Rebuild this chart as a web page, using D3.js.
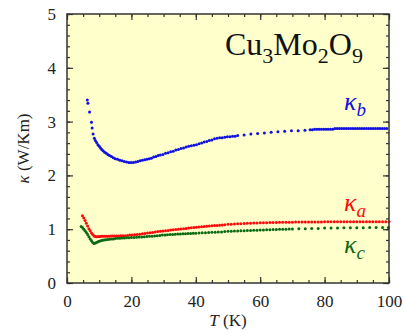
<!DOCTYPE html>
<html>
<head>
<meta charset="utf-8">
<script src="https://cdn.jsdelivr.net/npm/d3@7"></script>
<style>
  body { margin: 0; background: #fff; }
  svg, svg text { font-family: "Liberation Serif", "Times New Roman", serif; }
</style>
</head>
<body>
<div id="chart"></div>
<script>
var W = 404, H = 331;
var margin = {top: 14, right: 15, bottom: 48, left: 67};
var w = W - margin.left - margin.right, h = H - margin.top - margin.bottom;
var serif = '"Liberation Serif", "Times New Roman", serif';

var xTicks = [0, 20, 40, 60, 80, 100];
var yTicks = [0, 1, 2, 3, 4, 5];

// kappa_b (blue)
var kbT = [6.3, 6.5, 7.0, 7.6, 7.8, 8.1, 8.5, 8.8, 9.2, 9.6, 10.0, 10.4, 10.8, 11.2, 11.7, 12.2, 12.7, 13.2, 13.8, 14.4,
  15.0, 15.7, 16.4, 17.1, 17.8, 18.5, 19.2, 19.9, 20.6, 21.3, 22.0, 22.7, 23.4, 24.1, 24.8, 25.5, 26.2, 26.9, 27.6, 28.3,
  29.0, 29.8, 30.6, 31.4, 32.2, 33.0, 33.8, 34.6, 35.4, 36.2, 37.0, 37.8, 38.6, 39.4, 40.2, 41.0, 41.8, 42.6, 43.4, 44.2,
  45.0, 45.8, 46.6, 47.4, 48.2, 49.0, 49.8, 50.6, 51.4, 52.2, 53.0, 55.0, 57.1, 59.2, 61.3, 63.4, 65.5, 67.6, 69.7, 71.8,
  73.9, 75.5, 76.2, 76.9, 77.6, 78.3, 79.0, 79.7, 80.4, 81.1, 81.8, 82.5, 83.2, 83.9, 84.6, 85.3, 86.0, 86.7, 87.4, 88.1,
  88.8, 89.5, 90.2, 90.9, 91.6, 92.3, 93.0, 93.7, 94.4, 95.1, 95.8, 96.5, 97.2, 97.9, 98.6, 99.3];
var kbK = [3.40, 3.34, 3.18, 2.99, 2.88, 2.77, 2.69, 2.65, 2.61, 2.57, 2.54, 2.51, 2.48, 2.46, 2.43, 2.41, 2.39, 2.37, 2.35, 2.33,
  2.31, 2.30, 2.28, 2.27, 2.26, 2.25, 2.24, 2.24, 2.24, 2.25, 2.26, 2.27, 2.28, 2.29, 2.30, 2.31, 2.32, 2.34, 2.35, 2.37,
  2.38, 2.39, 2.41, 2.42, 2.44, 2.45, 2.47, 2.48, 2.50, 2.51, 2.53, 2.54, 2.55, 2.56, 2.57, 2.59, 2.60, 2.62, 2.63, 2.65,
  2.66, 2.68, 2.69, 2.70, 2.70, 2.71, 2.72, 2.72, 2.73, 2.73, 2.74, 2.75, 2.77, 2.78, 2.79, 2.80, 2.81, 2.82, 2.83, 2.83,
  2.84, 2.85, 2.85, 2.86, 2.86, 2.86, 2.86, 2.86, 2.86, 2.86, 2.86, 2.86, 2.87, 2.87, 2.87, 2.87, 2.87, 2.87, 2.87, 2.87,
  2.87, 2.87, 2.87, 2.87, 2.87, 2.87, 2.87, 2.87, 2.87, 2.87, 2.87, 2.87, 2.87, 2.87, 2.87, 2.87];

// kappa_a (red)
var kaT = [4.8, 5.2, 5.6, 6.0, 6.4, 6.8, 7.2, 7.6, 8.0, 8.4, 8.8, 9.2, 9.7, 10.2, 10.7, 11.2, 11.8, 12.4, 13.0, 13.6,
  14.2, 14.8, 15.4, 16.0, 16.7, 17.4, 18.1, 18.8, 19.5, 20.2, 21.0, 21.8, 22.6, 23.4, 24.2, 25.0, 25.8, 26.6, 27.4, 28.2,
  29.0, 29.8, 30.6, 31.4, 32.2, 33.0, 33.8, 34.6, 35.4, 36.2, 37.0, 37.8, 38.6, 39.4, 40.2, 41.0, 41.8, 42.6, 43.4, 44.2,
  45.0, 45.8, 46.6, 47.4, 48.2, 49.0, 50, 51, 52, 53, 54, 55, 56, 57, 58, 59, 60, 61, 62, 63,
  64, 65, 66, 67, 68, 69, 70, 71, 72, 73, 74, 75, 76, 77, 78, 79, 80, 81, 82, 83,
  84, 85, 86, 87, 88, 89, 90, 91, 92, 93, 94, 95, 96, 97, 98, 99, 100];
var kaK = [1.25, 1.21, 1.16, 1.11, 1.06, 1.01, 0.97, 0.93, 0.90, 0.875, 0.865, 0.86, 0.865, 0.865, 0.87, 0.87, 0.87, 0.87, 0.87, 0.875,
  0.875, 0.875, 0.875, 0.875, 0.88, 0.88, 0.88, 0.885, 0.89, 0.89, 0.895, 0.90, 0.905, 0.915, 0.92, 0.93, 0.935, 0.94, 0.95, 0.955,
  0.96, 0.965, 0.97, 0.975, 0.985, 0.99, 0.995, 1.00, 1.005, 1.01, 1.015, 1.02, 1.025, 1.03, 1.035, 1.04, 1.045, 1.05, 1.055, 1.06,
  1.065, 1.07, 1.07, 1.075, 1.08, 1.085, 1.09, 1.09, 1.095, 1.10, 1.10, 1.105, 1.11, 1.11, 1.115, 1.115, 1.12, 1.12, 1.12, 1.125,
  1.125, 1.125, 1.13, 1.13, 1.13, 1.13, 1.13, 1.135, 1.135, 1.135, 1.135, 1.135, 1.135, 1.135, 1.135, 1.135, 1.14, 1.14, 1.14, 1.14,
  1.14, 1.14, 1.14, 1.14, 1.14, 1.14, 1.14, 1.14, 1.14, 1.14, 1.14, 1.14, 1.14, 1.14, 1.14, 1.14, 1.14];

// kappa_c (green)
var kcT = [4.4, 4.8, 5.2, 5.6, 6.0, 6.4, 6.8, 7.2, 7.6, 8.0, 8.4, 8.8, 9.2, 9.6, 10.0, 10.5, 11.0, 11.5, 12.0, 12.6,
  13.2, 13.8, 14.4, 15.0, 15.7, 16.4, 17.1, 17.8, 18.5, 19.2, 20.0, 20.8, 21.6, 22.4, 23.2, 24.0, 24.8, 25.6, 26.4, 27.2,
  28.0, 28.8, 29.6, 30.4, 31.2, 32.0, 32.8, 33.6, 34.4, 35.2, 36.0, 36.8, 37.6, 38.4, 39.2, 40, 41, 42, 43, 44,
  45, 46, 47, 48, 49, 50, 51, 52, 53, 54, 55, 56, 57, 58, 59, 60, 61, 62, 63, 64,
  65, 66, 67, 68, 69, 70, 72, 74, 76, 78, 80, 82, 84, 86, 88, 90, 92, 94, 96, 98, 99.8];
var kcK = [1.05, 1.03, 1.00, 0.97, 0.94, 0.90, 0.86, 0.82, 0.785, 0.755, 0.735, 0.745, 0.755, 0.765, 0.775, 0.785, 0.795, 0.80, 0.805, 0.81,
  0.815, 0.82, 0.82, 0.825, 0.83, 0.83, 0.835, 0.835, 0.84, 0.84, 0.845, 0.845, 0.85, 0.855, 0.855, 0.86, 0.865, 0.87, 0.87, 0.875,
  0.88, 0.885, 0.89, 0.89, 0.895, 0.90, 0.90, 0.905, 0.91, 0.91, 0.915, 0.915, 0.92, 0.92, 0.925, 0.925, 0.93, 0.935, 0.935, 0.94,
  0.945, 0.945, 0.95, 0.95, 0.955, 0.96, 0.96, 0.965, 0.965, 0.97, 0.97, 0.975, 0.975, 0.98, 0.98, 0.985, 0.985, 0.99, 0.99, 0.995,
  0.995, 1.00, 1.00, 1.00, 1.005, 1.005, 1.01, 1.01, 1.015, 1.015, 1.02, 1.02, 1.02, 1.025, 1.025, 1.025, 1.025, 1.03, 1.03, 1.03, 1.03];

var series = [
  {T: kbT, K: kbK, color: '#1010e0'},
  {T: kaT, K: kaK, color: '#ff0a0a'},
  {T: kcT, K: kcK, color: '#0b6a12'}
];

var x = d3.scaleLinear().domain([0, 100]).range([0, w]);
var y = d3.scaleLinear().domain([0, 5]).range([h, 0]);

var svg = d3.select('#chart').append('svg')
  .attr('width', W)
  .attr('height', H)
  .style('font-family', serif)
  .append('g')
  .attr('transform', 'translate(' + margin.left + ',' + margin.top + ')');

svg.append('rect')
  .attr('width', w).attr('height', h)
  .attr('fill', '#ffffcc');

var xMinor = d3.range(0, 101, 5), yMinor = d3.range(0, 5.01, 0.2);
var fmt = d3.format('d');

function styleAxis(g) {
  g.attr('font-family', null);
  g.select('.domain').remove();
  g.selectAll('.tick line').attr('stroke', '#333').attr('stroke-width', 1.2);
}

// minor ticks on all sides
svg.append('g').attr('transform', 'translate(0,' + h + ')')
  .call(d3.axisBottom(x).tickValues(xMinor).tickSize(-3).tickFormat('')).call(styleAxis);
svg.append('g')
  .call(d3.axisTop(x).tickValues(xMinor).tickSize(-3).tickFormat('')).call(styleAxis);
svg.append('g')
  .call(d3.axisLeft(y).tickValues(yMinor).tickSize(-3).tickFormat('')).call(styleAxis);
svg.append('g').attr('transform', 'translate(' + w + ',0)')
  .call(d3.axisRight(y).tickValues(yMinor).tickSize(-3).tickFormat('')).call(styleAxis);

// major ticks
var xAx = svg.append('g').attr('transform', 'translate(0,' + h + ')')
  .call(d3.axisBottom(x).tickValues(xTicks).tickFormat(fmt).tickSize(-6).tickPadding(12)).call(styleAxis);
svg.append('g')
  .call(d3.axisTop(x).tickValues(xTicks).tickSize(-6).tickFormat('')).call(styleAxis);
var yAx = svg.append('g')
  .call(d3.axisLeft(y).tickValues(yTicks).tickFormat(fmt).tickSize(-6).tickPadding(11)).call(styleAxis);
svg.append('g').attr('transform', 'translate(' + w + ',0)')
  .call(d3.axisRight(y).tickValues(yTicks).tickSize(-6).tickFormat('')).call(styleAxis);

[xAx, yAx].forEach(function(a) {
  a.selectAll('text')
    .style('font-family', serif)
    .style('font-size', '17px')
    .attr('fill', '#222');
});

// data points
series.forEach(function(s) {
  svg.append('g').selectAll('circle')
    .data(s.T.map(function(t, i) { return [t, s.K[i]]; }))
    .enter().append('circle')
    .attr('cx', function(d) { return x(d[0]); })
    .attr('cy', function(d) { return y(d[1]); })
    .attr('r', 1.5)
    .attr('fill', s.color);
});

// frame
svg.append('rect')
  .attr('width', w).attr('height', h)
  .attr('fill', 'none')
  .attr('stroke', '#333')
  .attr('stroke-width', 1.5);

// compound label
var title = svg.append('text')
  .attr('x', 158).attr('y', 41)
  .style('font-family', serif)
  .style('font-size', '32px')
  .attr('fill', '#111');
title.append('tspan').text('Cu');
title.append('tspan').text('3').style('font-size', '22px').attr('dy', 8);
title.append('tspan').text('Mo').attr('dy', -8);
title.append('tspan').text('2').style('font-size', '22px').attr('dy', 8);
title.append('tspan').text('O').attr('dy', -8);
title.append('tspan').text('9').style('font-size', '22px').attr('dy', 8);

// series labels
var labels = [
  {sub: 'b', color: '#1010e0', yy: 96},
  {sub: 'a', color: '#ff0a0a', yy: 197},
  {sub: 'c', color: '#0b6a12', yy: 239}
];
labels.forEach(function(l) {
  var t = svg.append('text')
    .attr('x', 277).attr('y', l.yy)
    .style('font-family', serif)
    .style('font-size', '26px')
    .style('font-style', 'italic')
    .attr('fill', l.color);
  t.append('tspan').text('κ');
  t.append('tspan').text(l.sub).style('font-size', '19px').attr('dy', 6);
});

// axis titles
var xl = svg.append('text')
  .attr('x', w / 2).attr('y', h + 43)
  .attr('text-anchor', 'middle')
  .style('font-family', serif)
  .style('font-size', '17px')
  .attr('fill', '#222');
xl.append('tspan').text('T').style('font-style', 'italic');
xl.append('tspan').text(' (K)');

var yl = svg.append('text')
  .attr('transform', 'translate(' + (-38) + ',' + (h / 2) + ') rotate(-90)')
  .attr('text-anchor', 'middle')
  .style('font-family', serif)
  .style('font-size', '17px')
  .attr('fill', '#222');
yl.append('tspan').text('κ').style('font-style', 'italic');
yl.append('tspan').text(' (W/Km)');
</script>
</body>
</html>
